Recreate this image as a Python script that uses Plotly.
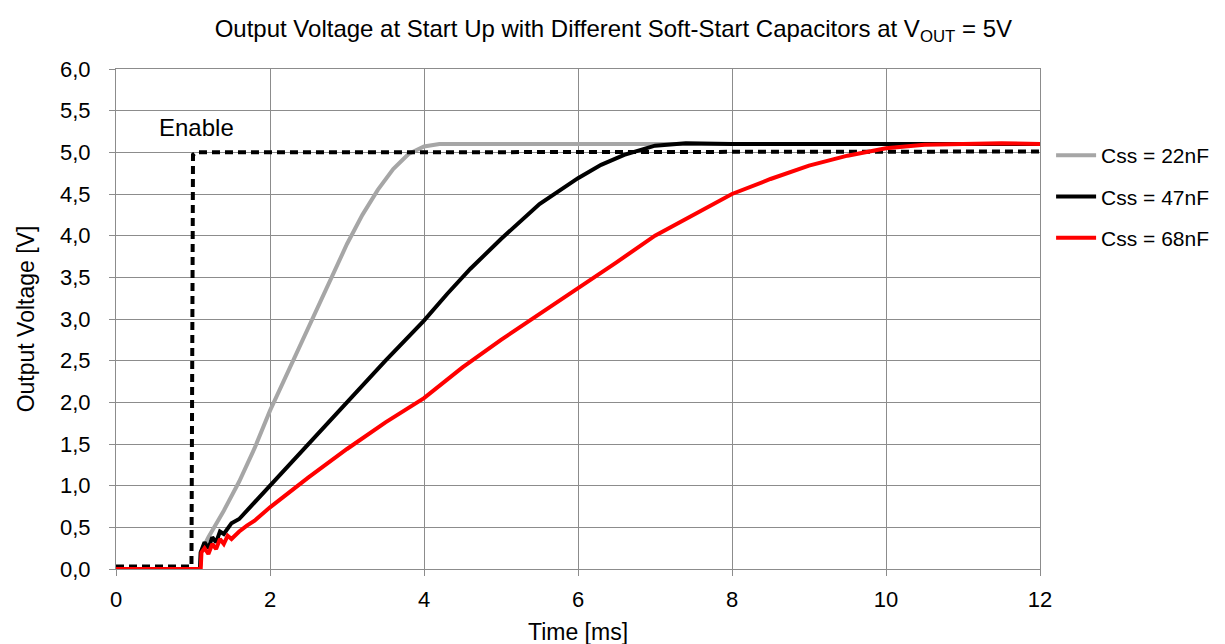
import plotly.graph_objects as go


# ==========================================
# DATA
# ==========================================

time_22nf = [0, 1.09, 1.10, 1.2, 1.4, 1.6, 1.8, 2.0, 2.2, 2.4, 2.6, 2.8,
             3.0, 3.2, 3.4, 3.6, 3.8, 4.0, 4.2, 4.5, 5.0, 6.0, 7.0, 8.0,
             9.0, 10.0, 11.0, 12.0]
vout_22nf = [0, 0, 0.2, 0.38, 0.7, 1.05, 1.45, 1.9, 2.3, 2.7, 3.1, 3.5,
             3.9, 4.25, 4.55, 4.8, 4.98, 5.07, 5.1, 5.1, 5.1, 5.1, 5.1, 5.1,
             5.1, 5.1, 5.1, 5.1]

time_47nf = [0, 1.09, 1.10, 1.15, 1.2, 1.25, 1.3, 1.35, 1.4, 1.5, 1.6, 1.8,
             2.0, 2.5, 3.0, 3.5, 4.0, 4.3, 4.6, 5.0, 5.5, 6.0, 6.3, 6.6,
             7.0, 7.4, 8.0, 9.0, 10.0, 11.0, 12.0]
vout_47nf = [0, 0, 0.2, 0.32, 0.25, 0.38, 0.32, 0.45, 0.42, 0.55, 0.6, 0.8,
             1.0, 1.5, 2.0, 2.5, 2.98, 3.3, 3.6, 3.96, 4.38, 4.69, 4.85, 4.97,
             5.08, 5.11, 5.1, 5.1, 5.1, 5.1, 5.1]

time_68nf = [0, 1.1, 1.11, 1.15, 1.2, 1.25, 1.3, 1.35, 1.4, 1.45, 1.5, 1.6,
             1.7, 1.8, 2.0, 2.5, 3.0, 3.5, 4.0, 4.5, 5.0, 5.5, 6.0, 6.5,
             7.0, 7.5, 8.0, 8.5, 9.0, 9.5, 10.0, 10.5, 11.0, 11.5, 12.0]
vout_68nf = [0, 0, 0.2, 0.25, 0.18, 0.3, 0.24, 0.36, 0.3, 0.4, 0.36, 0.45,
             0.52, 0.58, 0.74, 1.1, 1.44, 1.76, 2.05, 2.42, 2.75, 3.06, 3.36, 3.68,
             4.0, 4.25, 4.5, 4.68, 4.84, 4.96, 5.05, 5.09, 5.1, 5.11, 5.1]

time_enable = [0, 0.98, 1.0, 1.04, 3.0, 6.0, 9.0, 12.0]
volt_enable = [0.03, 0.03, 4.97, 5.0, 5.0, 5.0, 5.01, 5.01]

x_ticks = [0, 2, 4, 6, 8, 10, 12]


# ==========================================
# FIGURE
# ==========================================

FONT = "Liberation Sans, Arial, sans-serif"
GRID = "#8c8c8c"

fig = go.Figure()

# Css = 22nF
fig.add_trace(
    go.Scatter(
        x=time_22nf,
        y=vout_22nf,
        mode="lines",
        name="Css = 22nF",
        legendgroup="a",
        line=dict(color="#a6a6a6", width=4)
    )
)

# Enable signal
fig.add_trace(
    go.Scatter(
        x=time_enable,
        y=volt_enable,
        mode="lines",
        name="Enable",
        showlegend=False,
        line=dict(color="black", width=4, dash="8px,5px")
    )
)

# Css = 47nF
fig.add_trace(
    go.Scatter(
        x=time_47nf,
        y=vout_47nf,
        mode="lines",
        name="Css = 47nF",
        legendgroup="b",
        line=dict(color="black", width=4)
    )
)

# Css = 68nF
fig.add_trace(
    go.Scatter(
        x=time_68nf,
        y=vout_68nf,
        mode="lines",
        name="Css = 68nF",
        legendgroup="c",
        line=dict(color="#ff0000", width=4)
    )
)

fig.add_annotation(
    x=1.04,
    y=5.3,
    text="Enable",
    showarrow=False,
    font=dict(size=24, color="black", family=FONT)
)

# page body adds ~7px offset, so figure is a bit smaller than the window
fig.update_layout(

    title=dict(
        text="Output Voltage at Start Up with Different Soft-Start Capacitors at V<sub>OUT</sub> = 5V",
        x=0.497,
        xanchor="center",
        y=0.967,
        yanchor="middle",
        font=dict(size=24, color="black", family=FONT)
    ),

    width=1218,
    height=637,
    margin=dict(l=108, r=183, t=61, b=76),

    paper_bgcolor="white",
    plot_bgcolor="white",

    separators=",.",

    font=dict(family=FONT, size=22, color="black"),

    legend=dict(
        x=1.012,
        y=0.868,
        xanchor="left",
        yanchor="top",
        traceorder="grouped",
        tracegroupgap=11,
        itemwidth=40,
        bgcolor="rgba(0,0,0,0)",
        font=dict(size=21, color="black", family=FONT)
    ),

    xaxis=dict(
        title=dict(
            text="Time [ms]",
            standoff=12,
            font=dict(size=23, color="black", family=FONT)
        ),
        range=[0, 12],
        tickvals=x_ticks,
        ticklabelstandoff=5,
        automargin=False,
        showgrid=True,
        gridcolor=GRID,
        gridwidth=1,
        showline=True,
        linecolor=GRID,
        linewidth=1,
        mirror=True,
        ticks="outside",
        ticklen=6,
        tickcolor=GRID,
        zeroline=False
    ),

    yaxis=dict(
        title=dict(
            text="Output Voltage [V]",
            standoff=18,
            font=dict(size=23, color="black", family=FONT)
        ),
        range=[0, 6],
        dtick=0.5,
        tickformat=".1f",
        ticklabelstandoff=14,
        automargin=False,
        showgrid=True,
        gridcolor=GRID,
        gridwidth=1,
        showline=True,
        linecolor=GRID,
        linewidth=1,
        mirror=True,
        ticks="outside",
        ticklen=6,
        tickcolor=GRID,
        zeroline=False
    )
)

fig.write_html("out.html")
